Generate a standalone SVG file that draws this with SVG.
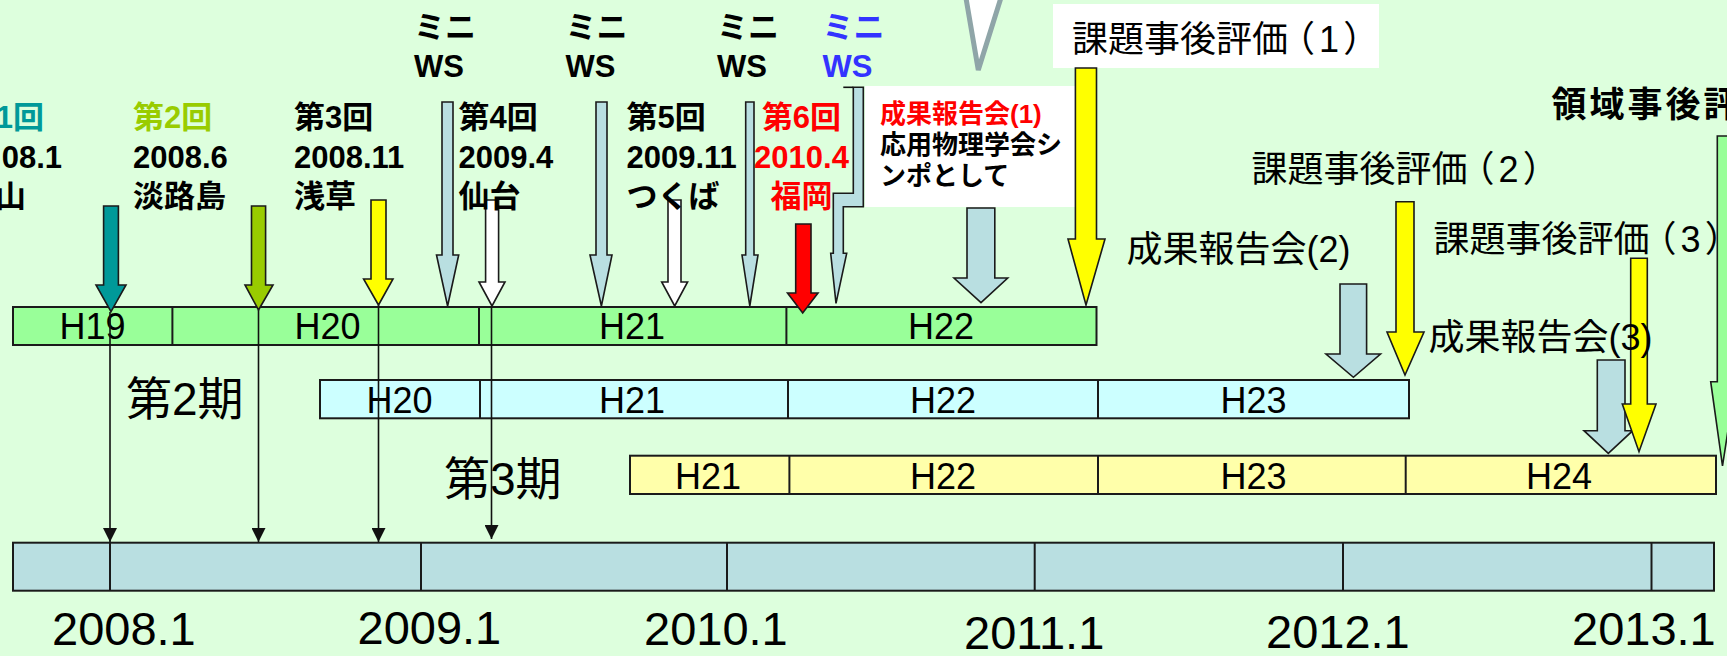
<svg xmlns="http://www.w3.org/2000/svg" width="1727" height="656" viewBox="0 0 1727 656">
<style>
.j{font-family:"Liberation Sans","Noto Sans CJK JP",sans-serif}
.b{font-weight:bold;font-size:31px}
.h{font-size:36px;text-anchor:middle}
.r{font-size:36px}
.y{font-size:47px}
.bar{stroke:#1a1a1a;stroke-width:2}
.div{stroke:#1a1a1a;stroke-width:2}
.ar{stroke:#1a1a1a;stroke-width:1.6;stroke-linejoin:miter}
.lb{fill:#B9DFE1}
.yl{fill:#FFFF00}
.wh{fill:#FFFFFF}
.ln{stroke:#111;stroke-width:1.6;fill:none}
</style>
<defs>
<marker id="ah" markerUnits="userSpaceOnUse" markerWidth="14" markerHeight="14" refX="14" refY="7" orient="auto">
<path d="M0,0 L14,7 L0,14 z" fill="#111"/>
</marker>
</defs>
<rect width="1727" height="656" fill="#DDFFDD"/>

<g id="callout-tip">
<polygon points="964.6,-10 978.3,70 1003.4,-10" fill="#FFFFFF" stroke="#8FA5A8" stroke-width="5" stroke-linejoin="miter"/>
</g>

<g id="row-phase1">
<rect class="bar" x="13" y="307" width="1083.5" height="38" fill="#99FF99"/>
<line class="div" x1="172.4" y1="307" x2="172.4" y2="345"/>
<line class="div" x1="479" y1="307" x2="479" y2="345"/>
<line class="div" x1="786.4" y1="307" x2="786.4" y2="345"/>
<text class="j h" x="92.5" y="339">H19</text>
<text class="j h" x="327.5" y="339">H20</text>
<text class="j h" x="632" y="339">H21</text>
<text class="j h" x="941" y="339">H22</text>
</g>

<g id="row-phase2">
<rect class="bar" x="320" y="380" width="1089" height="38.3" fill="#CCFFFF"/>
<line class="div" x1="480" y1="380" x2="480" y2="418.3"/>
<line class="div" x1="788" y1="380" x2="788" y2="418.3"/>
<line class="div" x1="1098" y1="380" x2="1098" y2="418.3"/>
<text class="j h" x="399.5" y="412.7">H20</text>
<text class="j h" x="632" y="412.7">H21</text>
<text class="j h" x="943" y="412.7">H22</text>
<text class="j h" x="1253.5" y="412.7">H23</text>
<text class="j" x="126" y="415" font-size="46">第2期</text>
</g>

<g id="row-phase3">
<rect class="bar" x="630" y="455.7" width="1086" height="38.3" fill="#FFFFAA"/>
<line class="div" x1="789.4" y1="455.7" x2="789.4" y2="494"/>
<line class="div" x1="1098" y1="455.7" x2="1098" y2="494"/>
<line class="div" x1="1405.7" y1="455.7" x2="1405.7" y2="494"/>
<text class="j h" x="708" y="489">H21</text>
<text class="j h" x="943" y="489">H22</text>
<text class="j h" x="1253.5" y="489">H23</text>
<text class="j h" x="1559" y="489">H24</text>
<text class="j" x="444" y="495" font-size="46">第3期</text>
</g>

<g id="axis">
<rect class="bar" x="13" y="542.7" width="1701" height="48" fill="#B9DFE1"/>
<line class="div" x1="110" y1="542.7" x2="110" y2="590.7"/>
<line class="div" x1="421" y1="542.7" x2="421" y2="590.7"/>
<line class="div" x1="727" y1="542.7" x2="727" y2="590.7"/>
<line class="div" x1="1034.7" y1="542.7" x2="1034.7" y2="590.7"/>
<line class="div" x1="1343" y1="542.7" x2="1343" y2="590.7"/>
<line class="div" x1="1651.5" y1="542.7" x2="1651.5" y2="590.7"/>
<text class="j y" x="52" y="645">2008.1</text>
<text class="j y" x="357.5" y="644">2009.1</text>
<text class="j y" x="644" y="645">2010.1</text>
<text class="j y" x="964" y="649">2011.1</text>
<text class="j y" x="1266" y="648">2012.1</text>
<text class="j y" x="1572" y="645">2013.1</text>
</g>

<g id="boxes">
<rect x="865" y="86" width="211" height="121" fill="#FFFFFF"/>
<rect x="1053" y="4" width="326" height="64" fill="#FFFFFF"/>
</g>

<g id="connectors">
<line class="ln" x1="110" y1="312" x2="110" y2="542" marker-end="url(#ah)"/>
<line class="ln" x1="258.5" y1="310" x2="258.5" y2="542" marker-end="url(#ah)"/>
<line class="ln" x1="378.5" y1="305" x2="378.5" y2="542" marker-end="url(#ah)"/>
<line class="ln" x1="491.5" y1="306" x2="491.5" y2="539" marker-end="url(#ah)"/>
<polygon class="ar" fill="#009999" points="103.6,206 118.4,206 118.4,285 126,285 111,311.7 96,285 103.6,285"/>
<polygon class="ar" fill="#99CC00" points="251.5,206 265.6,206 265.6,285 273,285 258.5,310 245,285 251.5,285"/>
<polygon class="ar yl" points="371,200 386,200 386,279 393,279 378.5,305 363.6,279 371,279"/>
<polygon class="ar lb" points="442,102 453,102 453,255 458.7,255 447.6,306 436.5,255 442,255"/>
<polygon class="ar wh" points="485.6,200 498.6,200 498.6,282 505,282 492,306 479,282 485.6,282"/>
<polygon class="ar lb" points="596,102 607,102 607,255 612,255 601.4,306 590,255 596,255"/>
<polygon class="ar wh" points="668,200 681,200 681,282 687.6,282 674.7,306 661.7,282 668,282"/>
<polygon class="ar lb" points="745.7,102 754,102 754,255 758,255 749.8,306 742,255 745.7,255"/>
<polygon class="ar" fill="#FF0000" points="795.7,224 811,224 811,293 818,293 802.7,313 787.5,293 795.7,293"/>
<polygon class="ar lb" points="853.3,87.3 863.3,87.3 863.3,206.7 843.3,206.7 843.3,253.3 846.7,253.3 836,303.3 830.7,253.3 833.3,253.3 833.3,193.3 853.3,193.3"/>
<line class="ln" x1="843.3" y1="87.3" x2="853.3" y2="87.3"/>
<polygon class="ar lb" points="967,208 994.8,208 994.8,278 1007.7,278 981,302.7 954,278 967,278"/>
<polygon class="ar yl" points="1075.4,68 1096.5,68 1096.5,239 1105,239 1086,305 1068,239 1075.4,239"/>
<polygon class="ar lb" points="1340,284 1366.6,284 1366.6,354 1380.5,354 1353.4,377.3 1326,354 1340,354"/>
<polygon class="ar yl" points="1396,201.7 1414,201.7 1414,332 1424,332 1405,375 1387,332 1396,332"/>
<polygon class="ar lb" points="1597.3,360 1625,360 1625,430.7 1632.7,430.7 1608.3,453.3 1584,430.7 1597.3,430.7"/>
<polygon class="ar yl" points="1630.7,258.3 1647.3,258.3 1647.3,404 1656,404 1639,451.7 1622.3,404 1630.7,404"/>
<polygon class="ar" fill="#99FF99" points="1717.3,136 1729,136 1729,381.7 1735.5,381.7 1722.5,466 1710.7,381.7 1717.3,381.7"/>
</g>

<g id="meeting1">
<text class="j b" x="44" y="128" text-anchor="end" fill="#009999">1回</text>
<text class="j b" x="62" y="168" text-anchor="end">08.1</text>
<text class="j b" x="-5" y="207">山</text>
</g>
<g id="meeting2">
<text class="j b" x="133" y="128" fill="#99CC00">第2回</text>
<text class="j b" x="133" y="168">2008.6</text>
<text class="j b" x="133" y="207">淡路島</text>
</g>
<g id="meeting3">
<text class="j b" x="294" y="128">第3回</text>
<text class="j b" x="294" y="168">2008.11</text>
<text class="j b" x="294" y="207">浅草</text>
</g>
<g id="meeting4">
<text class="j b" x="458.5" y="128">第4回</text>
<text class="j b" x="458.5" y="168">2009.4</text>
<text class="j b" x="458.5" y="207">仙台</text>
</g>
<g id="meeting5">
<text class="j b" x="626.5" y="128">第5回</text>
<text class="j b" x="626.5" y="168">2009.11</text>
<text class="j b" x="626.5" y="207">つくば</text>
</g>
<g id="meeting6" fill="#FF0000">
<text class="j b" x="801.5" y="128" text-anchor="middle">第6回</text>
<text class="j b" x="801.5" y="168" text-anchor="middle">2010.4</text>
<text class="j b" x="801.5" y="207" text-anchor="middle">福岡</text>
</g>
<g id="miniws1">
<text class="j b" x="414" y="38">ミニ</text>
<text class="j b" x="414" y="76.5">WS</text>
</g>
<g id="miniws2">
<text class="j b" x="565.5" y="38">ミニ</text>
<text class="j b" x="565.5" y="76.5">WS</text>
</g>
<g id="miniws3">
<text class="j b" x="717" y="38">ミニ</text>
<text class="j b" x="717" y="76.5">WS</text>
</g>
<g id="miniws4" fill="#3333FF">
<text class="j b" x="822.5" y="38">ミニ</text>
<text class="j b" x="822.5" y="76.5">WS</text>
</g>
<g id="report1" font-weight="bold" font-size="26">
<text class="j" x="880" y="123" fill="#FF0000">成果報告会(1)</text>
<text class="j" x="880" y="154">応用物理学会シ</text>
<text class="j" x="880" y="185">ンポとして</text>
</g>
<g id="eval1"><text class="j r" x="1072" y="52" dx="0 0 0 0 0 0 -9 4 4">課題事後評価（1）</text></g>
<g id="eval2"><text class="j r" x="1251.5" y="182" dx="0 0 0 0 0 0 -9 4 4">課題事後評価（2）</text></g>
<g id="eval3"><text class="j r" x="1433.5" y="252" dx="0 0 0 0 0 0 -9 4 4">課題事後評価（3）</text></g>
<g id="report2"><text class="j r" x="1126.5" y="262">成果報告会(2)</text></g>
<g id="report3"><text class="j r" x="1428.5" y="350">成果報告会(3)</text></g>
<g id="areaeval"><text class="j" x="1551.5" y="117" font-size="35" font-weight="bold" letter-spacing="3">領域事後評</text></g>
</svg>
